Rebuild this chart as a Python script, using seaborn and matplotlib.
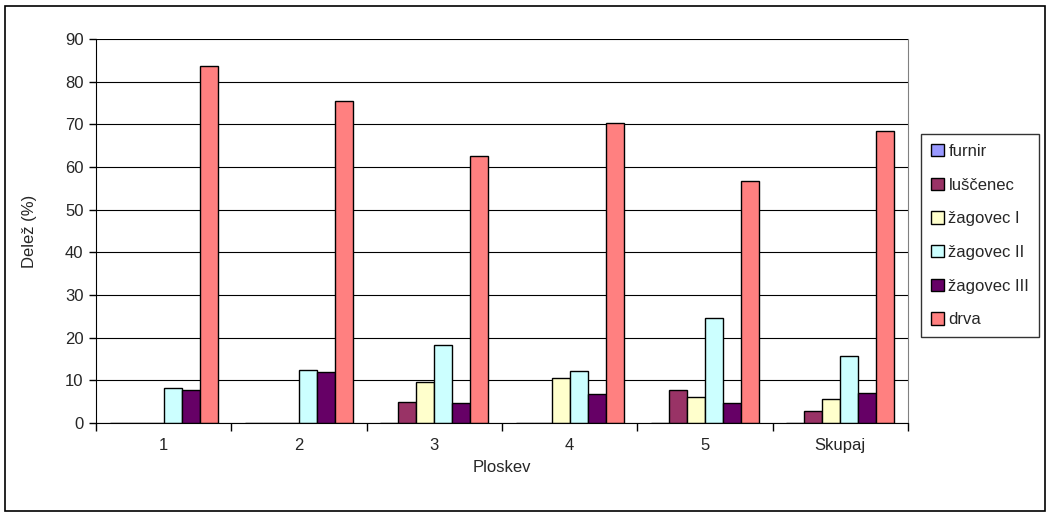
import pandas as pd
import seaborn as sns
import matplotlib.pyplot as plt
from matplotlib.patches import Rectangle
from matplotlib.ticker import FixedLocator

# data (delez v %)
ploskve = ["1", "2", "3", "4", "5", "Skupaj"]
sortimenti = ["furnir", "luščenec", "žagovec I", "žagovec II", "žagovec III", "drva"]
furnir = [0, 0, 0, 0, 0, 0]
luscenec = [0, 0, 5.0, 0, 7.8, 2.8]
zagovec_1 = [0, 0, 9.6, 10.6, 6.0, 5.7]
zagovec_2 = [8.1, 12.4, 18.3, 12.1, 24.7, 15.7]
zagovec_3 = [7.7, 12.0, 4.6, 6.7, 4.6, 7.1]
drva = [83.7, 75.4, 62.5, 70.3, 56.8, 68.5]
barve = ["#9999FF", "#993366", "#FFFFCC", "#CCFFFF", "#660066", "#FF8080"]

series = [furnir, luscenec, zagovec_1, zagovec_2, zagovec_3, drva]
rows = []
for name, vals in zip(sortimenti, series):
    for p, v in zip(ploskve, vals):
        rows.append({"Ploskev": p, "Sortiment": name, "Delez": v})
df = pd.DataFrame(rows)

sns.set_style("white")
plt.rcParams["font.family"] = ["Liberation Sans", "DejaVu Sans"]

fig = plt.figure(figsize=(10.51, 5.16), dpi=100)
ax = fig.add_axes([96 / 1051, 1 - 423 / 516, 812 / 1051, 384 / 516])

sns.barplot(data=df, x="Ploskev", y="Delez", hue="Sortiment", order=ploskve,
            hue_order=sortimenti, palette=barve, edgecolor="black", linewidth=1,
            width=0.8, saturation=1, ax=ax, legend=False)

ax.set_ylim(0, 90)
ax.set_xlim(-0.5, len(ploskve) - 0.5)
ax.set_yticks(range(0, 91, 10))
ax.yaxis.grid(True, color="black", linewidth=0.8)
ax.set_axisbelow(True)
ax.spines["top"].set_visible(False)
ax.spines["right"].set_color("#808080")
ax.spines["left"].set_color("black")
ax.spines["bottom"].set_color("black")

ax.tick_params(axis="y", direction="out", length=5, width=1, color="black",
               left=True, labelsize=12, pad=4)
ax.tick_params(axis="x", which="major", length=0, labelsize=12, pad=11)
ax.xaxis.set_minor_locator(FixedLocator([i - 0.5 for i in range(len(ploskve) + 1)]))
ax.tick_params(axis="x", which="minor", direction="out", length=6, width=1,
               color="black", bottom=True)

ax.set_xlabel("Ploskev", fontsize=12, labelpad=5)
ax.set_ylabel("Delež (%)", fontsize=12, labelpad=20)

handles = [Rectangle((0, 0), 1, 1, facecolor=c, edgecolor="black", linewidth=1) for c in barve]
leg = fig.legend(handles, sortimenti, loc="upper left",
                 bbox_to_anchor=(921 / 1051, 1 - 134 / 516), frameon=True,
                 fancybox=False, edgecolor="black", fontsize=12,
                 handlelength=0.75, handleheight=0.75, handletextpad=0.3,
                 labelspacing=1.12, borderpad=0.6, borderaxespad=0)
leg.get_frame().set_linewidth(1)

# outer chart border
fig.patches.append(Rectangle((5 / 1051, 5 / 516), 1040 / 1051, 505 / 516,
                             transform=fig.transFigure, fill=False,
                             edgecolor="black", linewidth=1.2))

plt.savefig("out.png", dpi=100)
plt.close()
